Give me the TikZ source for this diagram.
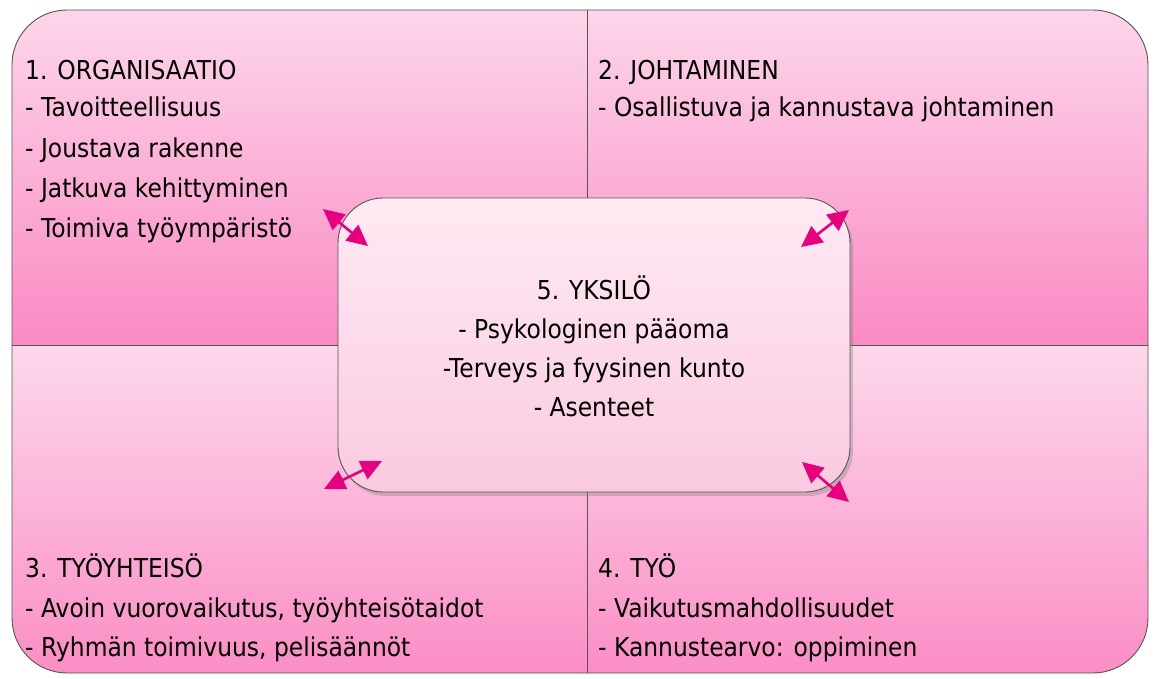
\documentclass[tikz,border=0pt]{standalone}
\usepackage{fontspec}
\setmainfont{DejaVu Sans}[FakeStretch=0.9]
\usetikzlibrary{arrows.meta,shadows}
\definecolor{vaalea}{RGB}{252,216,235}
\definecolor{tumma}{RGB}{251,138,195}
\definecolor{keskiyla}{RGB}{254,234,243}
\definecolor{keskiala}{RGB}{250,202,224}
\definecolor{nuoli}{RGB}{230,0,126}
\definecolor{reuna}{RGB}{85,85,85}
\begin{document}
\begin{tikzpicture}[x=1pt,y=-1pt,
    lohko/.style={top color=vaalea,bottom color=tumma,draw=reuna,line width=0.9pt},
    keskus/.style={top color=keskiyla,bottom color=keskiala,draw=reuna,line width=0.9pt,
      rounded corners=45pt,minimum width=512pt,minimum height=294pt,
      drop shadow={shadow xshift=3pt,shadow yshift=-4pt,opacity=0.35}},
    rivi/.style={anchor=base west,inner sep=0pt,font=\fontsize{26}{30}\selectfont,text=black},
    keskirivi/.style={anchor=base,inner sep=0pt,font=\fontsize{26}{30}\selectfont,text=black},
    nuolet/.style={{Triangle[length=21pt,width=20pt]}-{Triangle[length=21pt,width=20pt]},
      line width=2.6pt,nuoli}]
\useasboundingbox (0,0) rectangle (1154,679);
    %Nelja lohkoa
\begin{scope}
  \clip[rounded corners=55pt] (12,10) rectangle (1148,673);
  \draw[lohko] (0,0) rectangle (587,345); %1. organisaatio
  \draw[lohko] (587,0) rectangle (1160,345); %2. johtaminen
  \draw[lohko] (0,345) rectangle (587,690); %3. tyoyhteiso
  \draw[lohko] (587,345) rectangle (1160,690); %4. tyo
\end{scope}
\draw[reuna,line width=0.9pt,rounded corners=55pt] (12,10) rectangle (1148,673); %Ulkoreuna
    %Tekstit
\node[rivi] (org) at (25,80) {1. ORGANISAATIO};
\node[rivi] (org1) at (25,117) {- Tavoitteellisuus};
\node[rivi] (org2) at (25,158) {- Joustava rakenne};
\node[rivi] (org3) at (25,198) {- Jatkuva kehittyminen};
\node[rivi] (org4) at (25,238) {- Toimiva työympäristö};
\node[rivi] (joh) at (598,80) {2. JOHTAMINEN};
\node[rivi] (joh1) at (598,117) {- Osallistuva ja kannustava johtaminen};
\node[rivi] (yht) at (25,577) {3. TYÖYHTEISÖ};
\node[rivi] (yht1) at (25,617) {- Avoin vuorovaikutus, työyhteisötaidot};
\node[rivi] (yht2) at (25,656) {- Ryhmän toimivuus, pelisäännöt};
\node[rivi] (tyo) at (598,577) {4. TYÖ};
\node[rivi] (tyo1) at (598,617) {- Vaikutusmahdollisuudet};
\node[rivi] (tyo2) at (598,656) {- Kannustearvo: oppiminen};
    %Keskilaatikko
\node[keskus] (yksilo) at (594,345) {};
\node[keskirivi] (yks) at (594,299) {5. YKSILÖ};
\node[keskirivi] (yks1) at (594,338) {- Psykologinen pääoma};
\node[keskirivi] (yks2) at (594,377) {-Terveys ja fyysinen kunto};
\node[keskirivi] (yks3) at (594,416) {- Asenteet};
    %Nuolet
\coordinate (a1) at (323,209); \coordinate (b1) at (368,246);
\coordinate (a2) at (801,247); \coordinate (b2) at (849,210);
\coordinate (a3) at (324,489); \coordinate (b3) at (382,461);
\coordinate (a4) at (802,462); \coordinate (b4) at (849,502);
\draw[nuolet] (a1) -- (b1);
\draw[nuolet] (a2) -- (b2);
\draw[nuolet] (a3) -- (b3);
\draw[nuolet] (a4) -- (b4);
\end{tikzpicture}
\end{document}
